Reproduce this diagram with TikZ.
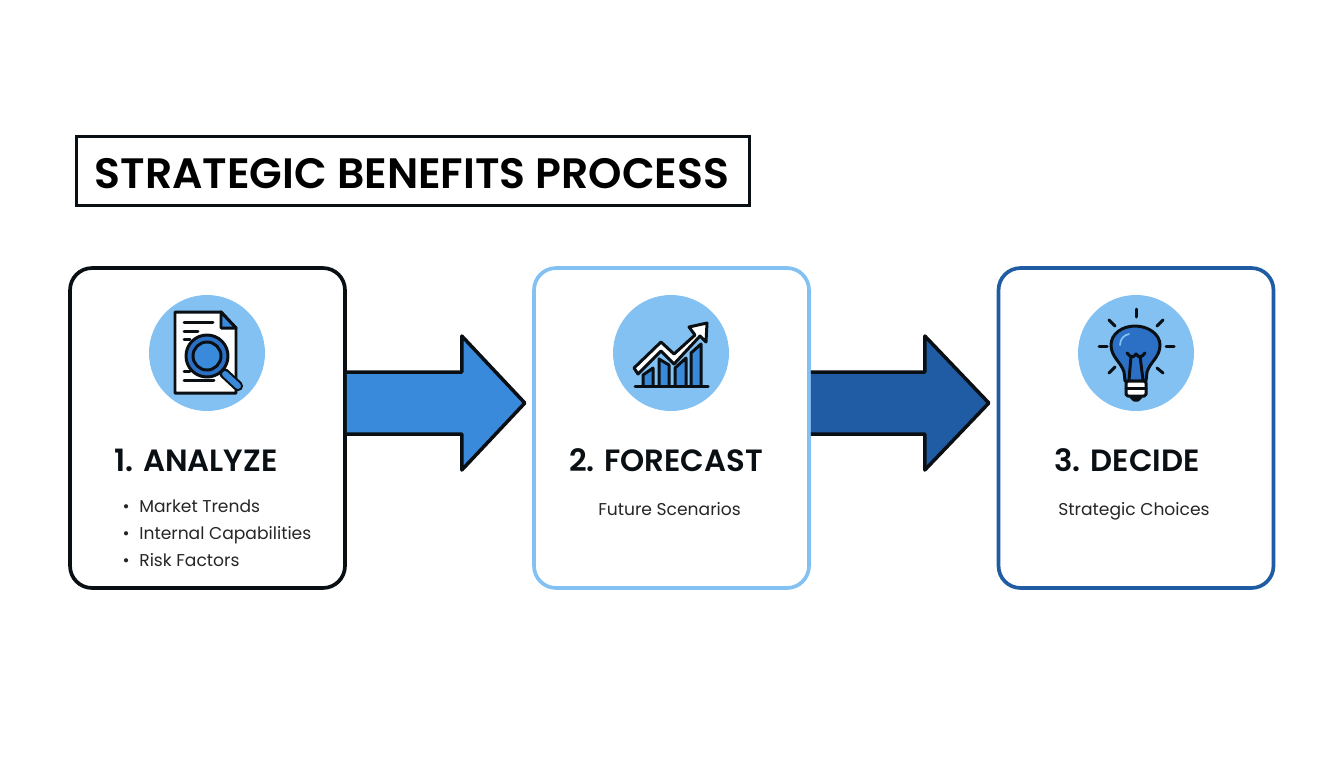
\documentclass[tikz,border=0pt]{standalone}
\usepackage{fontspec}
\setmainfont{Poppins}[BoldFont={Poppins SemiBold}]
\usetikzlibrary{positioning}
\definecolor{lightblue}{HTML}{82C1F2}
\definecolor{midblue}{HTML}{3A8ADB}
\definecolor{darkblue}{HTML}{1F5CA3}
\definecolor{bulbblue}{HTML}{2B70C4}
\definecolor{inkblack}{HTML}{0A0F14}
\tikzset{
	px/.style={x=0.02cm, y=-0.02cm},
	titlebox/.style={draw=inkblack, line width=1.7pt, minimum width=13.48cm, minimum height=1.38cm, inner sep=0pt},
	stepbox/.style={draw=#1, line width=2.1pt, fill=white, rounded corners=0.44cm, minimum width=5.5cm, minimum height=6.4cm, inner sep=0pt},
	iconcircle/.style={circle, fill=lightblue, minimum size=2.32cm, inner sep=0pt},
	steptitle/.style={font=\fontsize{17.5}{20}\selectfont\bfseries, text=inkblack},
	stepnote/.style={font=\fontsize{9.75}{12}\selectfont, text=black!85, text height=1.8ex, text depth=0.5ex, inner xsep=0pt},
	blockarrow/.style={draw=inkblack, line width=2pt, line join=round, fill=#1},
	inkline/.style={draw=inkblack, line width=1.7pt, line cap=round, line join=round},
}
\begin{document}
\begin{tikzpicture}[px]
	\useasboundingbox (0, 0) rectangle (1344, 768);
	\node[titlebox] (titlebar) at (413, 171) {};
	\node[font=\fontsize{24.2}{28}\selectfont\bfseries, text=black] (titletext) at (412, 174) {STRATEGIC BENEFITS PROCESS};

	\node[stepbox=inkblack] (analyze) at (207.5, 428) {};
	\node[stepbox=lightblue] (forecast) at (671.5, 428) {};
	\node[stepbox=darkblue] (decide) at (1136, 428) {};

	% block arrows, open at the box side
	\coordinate (arrowa) at (analyze.east);
	\coordinate (arrowb) at (forecast.east);
	\filldraw[blockarrow=midblue] (arrowa) ++(0, -56) -- ++(115, 0) -- ++(0, -36) -- ++(63, 67) -- ++(-63, 67) -- ++(0, -36) -- ++(-115, 0);
	\filldraw[blockarrow=darkblue] (arrowb) ++(0, -56) -- ++(114, 0) -- ++(0, -36) -- ++(64, 67) -- ++(-64, 67) -- ++(0, -36) -- ++(-114, 0);

	\node[iconcircle] (icona) at (207, 353) {};
	\node[iconcircle] (iconb) at (671, 353) {};
	\node[iconcircle] (iconc) at (1136, 353) {};

	% document and magnifier
	\filldraw[inkline, fill=white] (175, 312) -- (221, 312) -- (236, 328) -- (236, 393) -- (175, 393) -- cycle;
	\filldraw[inkline, fill=midblue] (221, 312) -- (236, 328) -- (221, 328) -- cycle;
	\draw[inkline] (184, 322) -- (213, 322);
	\draw[inkline] (184, 331) -- (198, 331);
	\draw[inkline] (184, 339) -- (190, 339);
	\draw[inkline] (184, 371) -- (190, 371);
	\draw[inkline] (184, 380) -- (214, 380);
	\draw[inkline, line width=5.8pt] (224, 373) -- (238, 386);
	\draw[line width=3.4pt, line cap=round, draw=midblue] (225, 374) -- (238, 386);
	\filldraw[inkline, fill=bulbblue] (207, 356) circle (21);
	\filldraw[inkline, fill=midblue] (207, 356) circle (14);

	% bars and rising arrow
	\filldraw[inkline, fill=midblue] (643, 386) -- (643, 375) -- (653, 368) -- (653, 386);
	\filldraw[inkline, fill=midblue] (659, 386) -- (659, 359) -- (669, 365) -- (669, 386);
	\filldraw[inkline, fill=midblue] (675, 386) -- (675, 368) -- (686, 358) -- (686, 386);
	\filldraw[inkline, fill=midblue] (691, 386) -- (691, 353) -- (701, 344) -- (701, 386);
	\draw[inkline] (635, 386) -- (708, 386);
	\filldraw[inkline, fill=white] (634, 368) -- (661, 342) -- (674, 354) -- (695, 335) -- (689, 327) -- (707, 323) -- (706, 342) -- (700, 336) -- (674, 364) -- (661, 351) -- (638, 374) -- cycle;

	% light bulb with rays
	\filldraw[inkline, fill=bulbblue] (1125, 381) -- (1124, 372) .. controls (1121, 362) and (1111, 357) .. (1111, 345) .. controls (1111, 334) and (1122, 326) .. (1135, 326) .. controls (1148, 326) and (1160, 334) .. (1160, 345) .. controls (1160, 357) and (1150, 362) .. (1147, 372) -- (1146, 381) -- cycle;
	\draw[inkline, draw=lightblue, line width=1pt] (1120, 345) .. controls (1120, 339) and (1124, 335) .. (1129, 334);
	\draw[inkline] (1127, 353) .. controls (1131, 358) and (1133, 358) .. (1136, 354) .. controls (1139, 358) and (1141, 358) .. (1145, 353);
	\draw[inkline] (1131, 356) -- (1129, 380);
	\draw[inkline] (1140, 356) -- (1143, 380);
	\filldraw[inkline, fill=white, rounded corners=1pt] (1126, 381) rectangle (1146, 396);
	\draw[inkline] (1126, 388) -- (1146, 388);
	\filldraw[inkline, fill=inkblack] (1131, 397) -- (1141, 397) -- (1138, 400) -- (1134, 400) -- cycle;
	\foreach \raystart/\rayend in {{(1136,309)/(1136,317)}, {(1109,320)/(1115,326)}, {(1163,320)/(1157,326)}, {(1099,346)/(1107,346)}, {(1166,346)/(1174,346)}, {(1109,373)/(1115,367)}, {(1163,373)/(1157,368)}}
		\draw[inkline] \raystart -- \rayend;

	% step texts
	\node[steptitle] (analyzetitle) at (196, 460) {1. ANALYZE};
	\node[steptitle] (forecasttitle) at (666, 460) {2. FORECAST};
	\node[steptitle] (decidetitle) at (1127, 460) {3. DECIDE};

	\node[stepnote, anchor=west] (notea) at (139, 506) {Market Trends};
	\node[stepnote, anchor=west] (noteb) at (139, 533) {Internal Capabilities};
	\node[stepnote, anchor=west] (notec) at (139, 560) {Risk Factors};
	\node[stepnote, left=0.18cm of notea] (dota) {•};
	\node[stepnote, left=0.18cm of noteb] (dotb) {•};
	\node[stepnote, left=0.18cm of notec] (dotc) {•};
	\node[stepnote] (noted) at (669.5, 509) {Future Scenarios};
	\node[stepnote] (notee) at (1134, 509) {Strategic Choices};
\end{tikzpicture}
\end{document}
